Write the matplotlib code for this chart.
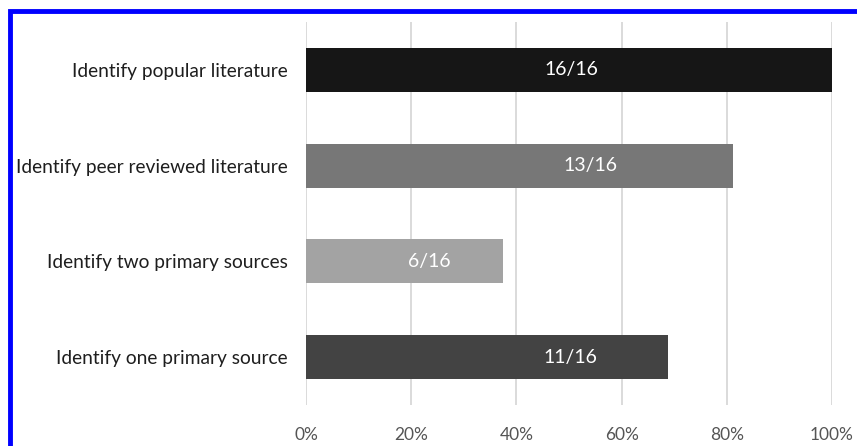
import matplotlib
matplotlib.use("Agg")
import matplotlib.pyplot as plt
from matplotlib.patches import Rectangle
from matplotlib.ticker import PercentFormatter

categories = ["Identify popular literature", "Identify peer reviewed literature",
              "Identify two primary sources", "Identify one primary source"]
counts = [16, 13, 6, 11]
total = 16
labels = ["16/16", "13/16", "6/16", "11/16"]
colors = ["#161616", "#777777", "#a3a3a3", "#434343"]
label_frac = [0.505, 0.54, 0.234, 0.503]  # label x positions (axes fraction)
xticks = [0, 20, 40, 60, 80, 100]

plt.rcParams['font.family'] = ['Lato', 'DejaVu Sans']

fig = plt.figure(figsize=(8.57, 4.46), dpi=100)
ax = fig.add_axes([306/857, 1-405/446, (832-306)/857, (405-22)/446])

vals = [c / total * 100 for c in counts]
ypos = list(range(len(categories)))
ax.barh(ypos, vals, height=0.46, color=colors, zorder=3)
for y, lab, fx in zip(ypos, labels, label_frac):
    ax.text(fx * 100, y, lab, color="white", ha="center", va="center",
            fontsize=14, zorder=4)

ax.set_xlim(0, 100)
ax.set_ylim(3.5, -0.5)
ax.set_yticks(ypos)
ax.set_yticklabels(categories, fontsize=13.8, color="#1e1e1e")
ax.set_xticks(xticks)
ax.xaxis.set_major_formatter(PercentFormatter(decimals=0))
ax.tick_params(axis='x', length=0, pad=16, labelsize=12.5, labelcolor="#555555")
ax.tick_params(axis='y', length=0, pad=13)
ax.grid(axis='x', color="#d4d4d4", linewidth=1.2, zorder=0)
for s in ax.spines.values():
    s.set_visible(False)

fig.patches.append(Rectangle((9.5/857, -0.1), 1.2, 1 - 10.5/446 + 0.1,
                             transform=fig.transFigure, fill=False,
                             edgecolor="#0000ff", linewidth=3.5))

fig.savefig("out.png", dpi=100)
